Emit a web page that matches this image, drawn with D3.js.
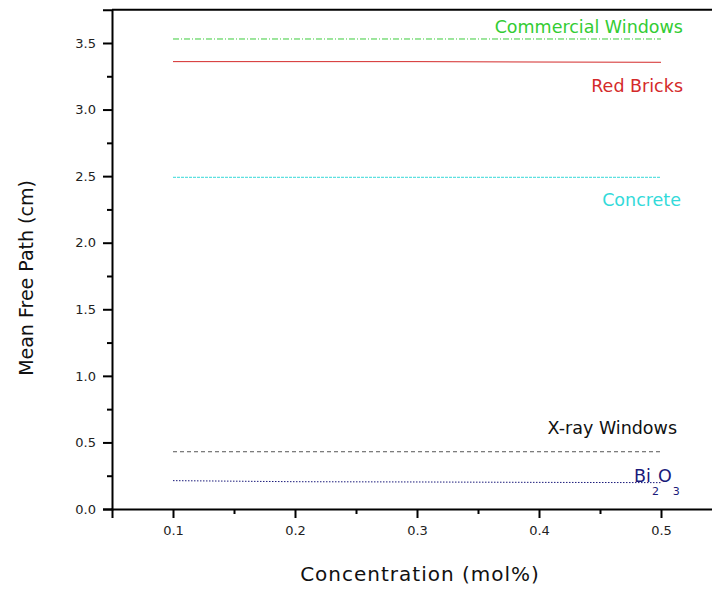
<!DOCTYPE html>
<html>
<head>
<meta charset="utf-8">
<script src="https://cdn.jsdelivr.net/npm/d3@7"></script>
<style>
  body { margin: 0; background: #fff; }
  svg { display: block; font-family: "DejaVu Sans", sans-serif; }
</style>
</head>
<body>
<svg id="chart" width="712" height="589"></svg>
<script>
// concentrations (mol%)
const concentration = [0.1, 0.2, 0.3, 0.4, 0.5];

// mean free path values (cm)
const commercialWindows = [3.53, 3.53, 3.53, 3.53, 3.53];
const redBricks = [3.36, 3.36, 3.36, 3.357, 3.355];
const concreteVals = [2.49, 2.49, 2.49, 2.49, 2.49];
const xrayWindows = [0.43, 0.43, 0.43, 0.43, 0.43];
const bi2o3 = [0.213, 0.205, 0.203, 0.2, 0.198];

const xTicks = [0.1, 0.2, 0.3, 0.4, 0.5];
const xMinor = [0.15, 0.25, 0.35, 0.45];
const yTicks = [0.0, 0.5, 1.0, 1.5, 2.0, 2.5, 3.0, 3.5];
const yMinor = [0.25, 0.75, 1.25, 1.75, 2.25, 2.75, 3.25];

const svg = d3.select("#chart");

// set the ranges
var x = d3.scaleLinear().domain([0.05, 0.55]).range([112, 722]);
var y = d3.scaleLinear().domain([0, 3.75]).range([509, 9.7]);

// frame: top border
svg.append("line")
  .attr("x1", x(0.05)).attr("x2", 712)
  .attr("y1", y(3.75)).attr("y2", y(3.75))
  .attr("stroke", "#000").attr("stroke-width", 2);

// minor ticks first so the axes draw over them
svg.append("g")
  .attr("transform", "translate(0," + y(0) + ")")
  .call(d3.axisBottom(x).tickValues(xMinor).tickSize(5).tickFormat(""))
  .call(g => g.select(".domain").remove())
  .selectAll("line").attr("stroke-width", 2);

svg.append("g")
  .attr("transform", "translate(" + x(0.05) + ",0)")
  .call(d3.axisLeft(y).tickValues(yMinor).tickSize(5).tickFormat(""))
  .call(g => g.select(".domain").remove())
  .selectAll("line").attr("stroke-width", 2);

// x axis
const xAxis = svg.append("g")
  .attr("transform", "translate(0," + y(0) + ")")
  .call(d3.axisBottom(x).tickValues(xTicks).tickSizeOuter(0).tickSize(9).tickPadding(8).tickFormat(d3.format(".1f")));
xAxis.select(".domain").attr("stroke-width", 2);
xAxis.selectAll(".tick line").attr("stroke-width", 2);
xAxis.selectAll("text").attr("font-size", 13).attr("fill", "#222").attr("font-family", "DejaVu Sans");

// y axis
const yAxis = svg.append("g")
  .attr("transform", "translate(" + x(0.05) + ",0)")
  .call(d3.axisLeft(y).tickValues(yTicks).tickSizeOuter(0).tickSize(9).tickPadding(7).tickFormat(d3.format(".1f")));
yAxis.select(".domain").attr("stroke-width", 2);
yAxis.selectAll(".tick line").attr("stroke-width", 2);
yAxis.selectAll("text").attr("font-size", 13).attr("fill", "#222").attr("font-family", "DejaVu Sans");

// series lines
const series = [
  { name: "Commercial Windows", values: commercialWindows, color: "#3ccc3c", dash: "6,2,1,2", w: 1 },
  { name: "Red Bricks", values: redBricks, color: "#d42a2a", dash: null, w: 1 },
  { name: "Concrete", values: concreteVals, color: "#5ee0e0", dash: "3,1", w: 1.3 },
  { name: "X-ray Windows", values: xrayWindows, color: "#555", dash: "4,3", w: 1 },
  { name: "Bi2O3", values: bi2o3, color: "#1a1a7a", dash: "1.5,1.5", w: 1 }
];

var valueline = d3.line()
  .x(function(d) { return x(d[0]); })
  .y(function(d) { return y(d[1]); });

series.forEach(s => {
  svg.append("path")
    .datum(concentration.map((c, i) => [c, s.values[i]]))
    .attr("fill", "none")
    .attr("stroke", s.color)
    .attr("stroke-width", s.w)
    .attr("stroke-dasharray", s.dash)
    .attr("d", valueline);
});

// series labels
function label(txt, xr, yb, color) {
  svg.append("text")
    .attr("x", xr).attr("y", yb)
    .attr("text-anchor", "end")
    .attr("font-size", 17.5)
    .attr("fill", color)
    .text(txt);
}
label("Commercial Windows", 683, 33, "#33cc33");
label("Red Bricks", 683, 92, "#d42a2a");
label("Concrete", 681, 206, "#33dada");
label("X-ray Windows", 677, 434, "#111");

// Bi2O3 with spaced subscripts
const bi = svg.append("text")
  .attr("x", 634).attr("y", 482)
  .attr("font-size", 17.5)
  .attr("fill", "#1a1a7a");
bi.append("tspan").text("Bi");
bi.append("tspan").attr("font-size", 11).attr("dy", 13).attr("dx", 1).text("2");
bi.append("tspan").attr("dy", -13).attr("dx", -1).text("O");
bi.append("tspan").attr("font-size", 11).attr("dy", 13).attr("dx", 1).text("3");

// axis titles
svg.append("text")
  .attr("x", 420).attr("y", 581)
  .attr("text-anchor", "middle")
  .attr("font-size", 20)
  .attr("letter-spacing", 1)
  .attr("fill", "#111")
  .text("Concentration (mol%)");

svg.append("text")
  .attr("transform", "translate(33,278) rotate(-90)")
  .attr("text-anchor", "middle")
  .attr("font-size", 19)
  .attr("fill", "#111")
  .text("Mean Free Path (cm)");
</script>
</body>
</html>
